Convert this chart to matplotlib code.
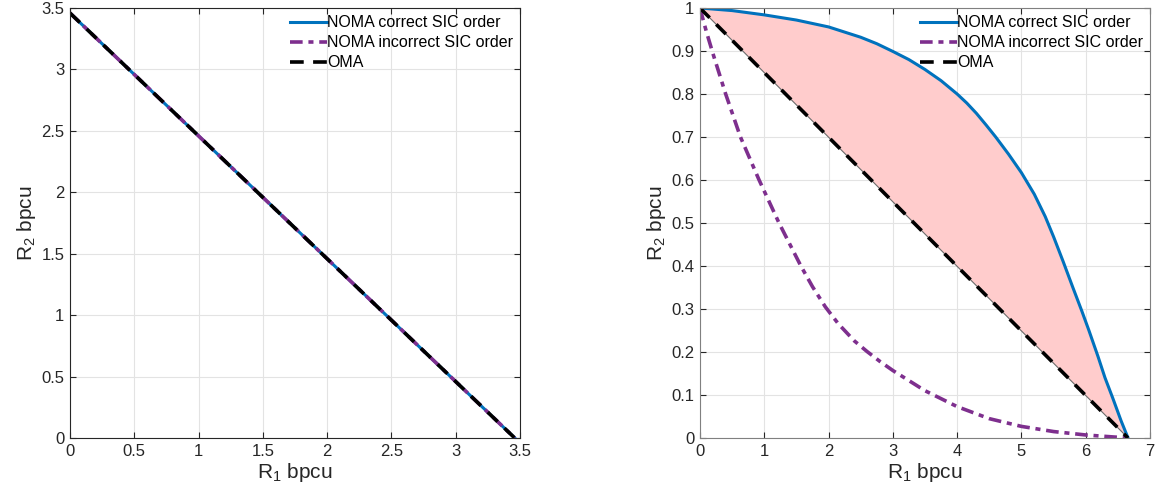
import numpy as np
import matplotlib.pyplot as plt

plt.rcParams['font.family'] = ['Liberation Sans', 'DejaVu Sans']
plt.rcParams['mathtext.fontset'] = 'custom'
plt.rcParams['mathtext.rm'] = 'Liberation Sans'
plt.rcParams['mathtext.it'] = 'Liberation Sans'

# left panel: all three regions coincide
left_r1 = [0, 3.459]
left_r2 = [3.459, 0]

# right panel
oma_r1 = [0, 6.658]
oma_r2 = [1, 0]

noma_ok_r1 = [0, 0.5, 1, 1.5, 2, 2.5, 2.75, 3, 3.25, 3.5, 3.75, 4, 4.15, 4.3, 4.45, 4.6, 4.8,
              5, 5.2, 5.37, 5.5, 5.65, 5.8, 5.94, 6.05, 6.19, 6.3, 6.42, 6.55, 6.658]
noma_ok_r2 = [1, 0.994, 0.984, 0.972, 0.956, 0.932, 0.917, 0.899, 0.88, 0.857, 0.831, 0.80,
              0.779, 0.755, 0.728, 0.70, 0.66, 0.617, 0.567, 0.515, 0.468, 0.41, 0.35, 0.295,
              0.25, 0.19, 0.14, 0.093, 0.04, 0]

noma_bad_r1 = [0, 0.1, 0.2, 0.40, 0.63, 0.92, 1.23, 1.57, 1.75, 1.95, 2.15, 2.4, 2.6, 2.8,
               3.0, 3.5, 4.0, 4.5, 5.0, 5.5, 6.0, 6.658]
noma_bad_r2 = [1, 0.945, 0.895, 0.8, 0.7, 0.6, 0.5, 0.4, 0.352, 0.305, 0.266, 0.226, 0.201,
               0.178, 0.157, 0.11, 0.073, 0.045, 0.027, 0.015, 0.007, 0]

labels = ['NOMA correct SIC order', 'NOMA incorrect SIC order', 'OMA']

blue = '#0072BD'
purple = '#7E2F8E'


def style_axes(ax, edge):
    ax.grid(True, color='#e3e3e3', linewidth=0.8)
    ax.set_axisbelow(True)
    ax.tick_params(direction='in', length=4, top=True, right=True,
                   labelsize=12, colors='#262626', pad=4)
    for s in ax.spines.values():
        s.set_color(edge)
        s.set_linewidth(0.8)
    ax.set_xlabel('R$_1$ bpcu', fontsize=15, color='#262626', labelpad=2)
    ax.set_ylabel('R$_2$ bpcu', fontsize=15, color='#262626', labelpad=2)


def draw_lines(ax, x1, y1, x2, y2, x3, y3):
    ax.plot(x1, y1, color=blue, lw=2.2, label=labels[0])
    ax.plot(x2, y2, color=purple, lw=2.6, dashes=(3.5, 1.6, 1.4, 1.6), label=labels[1])
    ax.plot(x3, y3, color='black', lw=2.6, dashes=(3.8, 2.6), label=labels[2])
    ax.legend(loc='upper right', frameon=False, fontsize=11.5, handlelength=2.3,
              handletextpad=0.0, labelspacing=0.32, borderaxespad=0.1,
              borderpad=0.35)


fig = plt.figure(figsize=(11.6, 5), dpi=100)
ax1 = fig.add_axes([0.0603, 0.124, 0.388, 0.86])
ax2 = fig.add_axes([0.6034, 0.124, 0.388, 0.86])

draw_lines(ax1, left_r1, left_r2, left_r1, left_r2, left_r1, left_r2)
ax1.set_xlim(0, 3.5)
ax1.set_ylim(0, 3.5)
ax1.set_xticks(np.arange(0, 3.51, 0.5))
ax1.set_yticks(np.arange(0, 3.51, 0.5))
ax1.set_xticklabels(['0', '0.5', '1', '1.5', '2', '2.5', '3', '3.5'])
ax1.set_yticklabels(['0', '0.5', '1', '1.5', '2', '2.5', '3', '3.5'])
style_axes(ax1, '#262626')

# shaded gain region between NOMA correct and OMA
poly_x = list(noma_ok_r1) + list(oma_r1[::-1])
poly_y = list(noma_ok_r2) + list(oma_r2[::-1])
ax2.fill(poly_x, poly_y, facecolor='#ffcccc', edgecolor='#6b6b6b', linewidth=0.8)
draw_lines(ax2, noma_ok_r1, noma_ok_r2, noma_bad_r1, noma_bad_r2, oma_r1, oma_r2)
ax2.set_xlim(0, 7)
ax2.set_ylim(0, 1)
ax2.set_xticks(range(0, 8))
ax2.set_yticks(np.arange(0, 1.01, 0.1))
ax2.set_yticklabels(['0', '0.1', '0.2', '0.3', '0.4', '0.5', '0.6', '0.7', '0.8', '0.9', '1'])
style_axes(ax2, '#808080')

fig.savefig('out.png', dpi=100)
